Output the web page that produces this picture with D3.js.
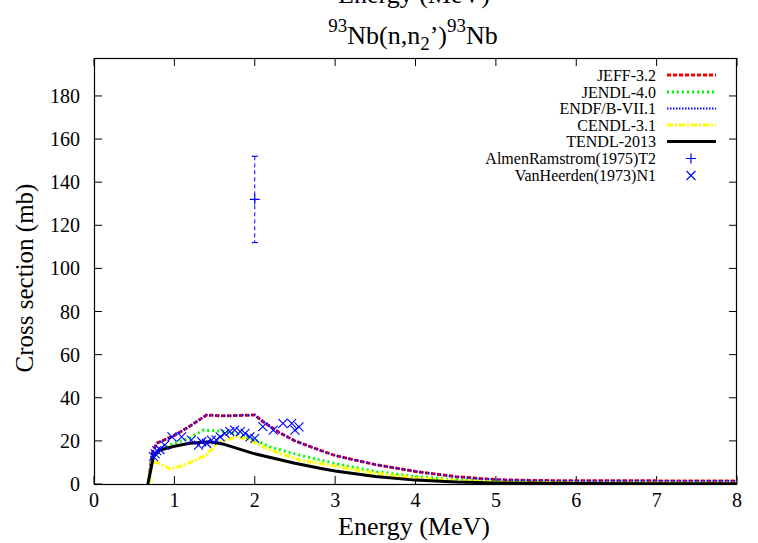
<!DOCTYPE html>
<html>
<head>
<meta charset="utf-8">
<script src="https://cdn.jsdelivr.net/npm/d3@7"></script>
</head>
<body style="margin:0">
<svg id="s" width="758" height="543"></svg>
<script>
// ---------------- data ----------------
const xTicks = [0, 1, 2, 3, 4, 5, 6, 7, 8];
const yTicks = [0, 20, 40, 60, 80, 100, 120, 140, 160, 180];

const jeffE = [0.68, 0.72, 0.78, 1.0, 1.2, 1.4, 1.6, 1.8, 2.0, 2.1, 2.3, 2.5, 2.75, 3.0, 3.5, 4.0, 4.5, 5.0, 5.5, 6.0, 7.0, 8.0];
const jeffV = [0, 14, 18.9, 22.5, 27, 32, 31.6, 31.8, 32, 29, 24, 20, 16.5, 13.2, 9, 5.8, 3.4, 2.0, 1.6, 1.5, 1.45, 1.4];

const jendlE = [0.68, 0.72, 0.82, 1.0, 1.19, 1.36, 1.6, 1.8, 2.0, 2.2, 2.56, 3.0, 3.5, 4.0, 4.5, 5.0, 6.0, 7.0, 8.0];
const jendlV = [0, 13, 15.8, 19, 21.3, 25, 24.5, 23, 20.5, 17, 13.4, 9.5, 5.8, 3.5, 2.0, 1.0, 0.6, 0.5, 0.5];

const endfE = [0.68, 0.72, 0.78, 1.0, 1.2, 1.4, 1.6, 1.8, 2.0, 2.1, 2.3, 2.5, 2.75, 3.0, 3.5, 4.0, 4.5, 5.0, 5.5, 6.0, 7.0, 8.0];
const endfV = [0, 14, 18.9, 22.5, 27, 32, 31.6, 31.8, 32, 29, 24, 20, 16.5, 13.2, 9, 5.8, 3.4, 2.0, 1.6, 1.5, 1.45, 1.4];

const cendlE = [0.69, 0.72, 0.78, 0.95, 1.1, 1.4, 1.53, 1.77, 1.9, 2.19, 2.56, 3.0, 3.5, 4.0, 4.5, 5.0, 6.0, 7.0, 8.0];
const cendlV = [0, 10, 10, 7, 8.5, 13.4, 18.9, 21.9, 21, 15.8, 11.1, 8.3, 5, 2.8, 1.5, 0.8, 0.4, 0.3, 0.3];

const tendlE = [0.67, 0.74, 0.82, 1.0, 1.19, 1.44, 1.6, 1.98, 2.5, 2.81, 3.0, 3.5, 4.0, 4.5, 5.0, 6.0, 7.0, 8.0];
const tendlV = [0, 12.7, 15.8, 17.5, 18.9, 19.6, 18.6, 14.2, 9.6, 7.3, 6, 3.5, 1.8, 0.9, 0.5, 0.2, 0.15, 0.1];

const almenE = [2.0];
const almenV = [132];
const almenErr = [20];

const vanE = [0.74, 0.76, 0.78, 0.82, 0.88, 0.97, 1.09, 1.21, 1.30, 1.34, 1.40, 1.46, 1.52, 1.57, 1.63, 1.69, 1.75, 1.82, 1.88, 1.94, 2.00, 2.10, 2.23, 2.35, 2.46, 2.50, 2.55];
const vanV = [12.7, 14, 15.5, 16, 18, 21.9, 21.9, 20.4, 18, 19.6, 18.9, 20.4, 20.5, 21.9, 23.5, 24.3, 25, 24.3, 23.5, 21.9, 21.2, 26.6, 25, 28.1, 28.1, 25, 26.5];

const seriesNames = ["JEFF-3.2", "JENDL-4.0", "ENDF/B-VII.1", "CENDL-3.1", "TENDL-2013"];
const expNames = ["AlmenRamstrom(1975)T2", "VanHeerden(1973)N1"];

// ---------------- layout ----------------
const L = 94, R = 737, T = 58, B = 484;
const svg = d3.select("#s");
const x = d3.scaleLinear().domain([0, 8]).range([L, R]);
const y = d3.scaleLinear().domain([0, 197.6]).range([B, T]);

const styles = [
  { color: "#ff0000", width: 3, dash: "4,2" },
  { color: "#00ff00", width: 3, dash: "2,3" },
  { color: "#0000ff", width: 2, dash: "1.5,1.5" },
  { color: "#ffff00", width: 3, dash: "6,2,2,2" },
  { color: "#000000", width: 3, dash: null }
];
const curves = [[jeffE, jeffV], [jendlE, jendlV], [endfE, endfV], [cendlE, cendlV], [tendlE, tendlV]];

// manual text helper (no d3-axis text, plain text elements like a simple label)
function label(xp, yp, str, size, anchor, dy) {
  return svg.append("text").attr("x", xp).attr("y", yp).attr("dy", dy || 0)
    .attr("text-anchor", anchor || "start")
    .style("font-family", "Liberation Serif").style("font-size", size + "px")
    .text(str);
}

svg.append("clipPath").attr("id", "clipArea").append("rect")
  .attr("x", L).attr("y", T).attr("width", R - L).attr("height", B - T);

// ticks (inward, mirrored) built from the scales
xTicks.forEach(t => {
  const px = x(t);
  svg.append("line").attr("x1", px).attr("x2", px).attr("y1", B).attr("y2", B - 8).attr("stroke", "#000");
  svg.append("line").attr("x1", px).attr("x2", px).attr("y1", T).attr("y2", T + 8).attr("stroke", "#000");
  label(px, B + 23, String(t), 20, "middle");
});
yTicks.forEach(t => {
  const py = y(t);
  svg.append("line").attr("x1", L).attr("x2", L + 8).attr("y1", py).attr("y2", py).attr("stroke", "#000");
  svg.append("line").attr("x1", R - 8).attr("x2", R).attr("y1", py).attr("y2", py).attr("stroke", "#000");
  label(L - 14, py + 7, String(t), 20, "end");
});

// frame
svg.append("rect").attr("x", L + 0.5).attr("y", T + 0.5).attr("width", R - L - 1).attr("height", B - T)
  .attr("fill", "none").attr("stroke", "#000").attr("stroke-width", 1.2);

// curves
const plot = svg.append("g").attr("clip-path", "url(#clipArea)");
const line = d3.line().x(d => x(d[0])).y(d => y(d[1]));
curves.forEach((c, i) => {
  const pts = c[0].map((e, k) => [e, c[1][k]]);
  const p = plot.append("path").datum(pts).attr("d", line)
    .attr("fill", "none").attr("stroke", styles[i].color).attr("stroke-width", styles[i].width)
    .attr("stroke-linejoin", "round");
  if (styles[i].dash) p.attr("stroke-dasharray", styles[i].dash);
});

// experimental: AlmenRamstrom with error bar
const blue = "#0000ff";
almenE.forEach((e, k) => {
  const cx = x(e), cy = y(almenV[k]);
  const y1 = y(almenV[k] + almenErr[k]), y0 = y(almenV[k] - almenErr[k]);
  plot.append("line").attr("x1", cx).attr("x2", cx).attr("y1", y1).attr("y2", y0)
    .attr("stroke", blue).attr("stroke-width", 1).attr("stroke-dasharray", "4,3");
  [y1, y0].forEach(yy => plot.append("line").attr("x1", cx - 3).attr("x2", cx + 3).attr("y1", yy).attr("y2", yy)
    .attr("stroke", blue).attr("stroke-width", 1.2));
  plot.append("path").attr("d", `M${cx - 5},${cy}H${cx + 5}M${cx},${cy - 5}V${cy + 5}`)
    .attr("stroke", blue).attr("stroke-width", 1.2);
});

// VanHeerden crosses
vanE.forEach((e, k) => {
  const cx = x(e), cy = y(vanV[k]), s = 4.5;
  plot.append("path").attr("d", `M${cx - s},${cy - s}L${cx + s},${cy + s}M${cx - s},${cy + s}L${cx + s},${cy - s}`)
    .attr("stroke", blue).attr("stroke-width", 1.1);
});

// legend
const rowY = [75, 92, 108.5, 125, 141.5, 158.5, 175.5];
const textEnd = 656, lx0 = 667, lx1 = 716, mx = 691;
seriesNames.forEach((n, i) => {
  label(textEnd, rowY[i] + 5.5, n, 16, "end");
  const l = svg.append("line").attr("x1", lx0).attr("x2", lx1).attr("y1", rowY[i]).attr("y2", rowY[i])
    .attr("stroke", styles[i].color).attr("stroke-width", styles[i].width);
  if (styles[i].dash) l.attr("stroke-dasharray", styles[i].dash);
});
expNames.forEach((n, j) => {
  const i = j + 5, cy = rowY[i];
  label(textEnd, cy + 5.5, n, 16, "end");
  if (j === 0) {
    svg.append("path").attr("d", `M${mx - 5},${cy}H${mx + 5}M${mx},${cy - 5}V${cy + 5}`)
      .attr("stroke", blue).attr("stroke-width", 1.2);
  } else {
    const s = 4.5;
    svg.append("path").attr("d", `M${mx - s},${cy - s}L${mx + s},${cy + s}M${mx - s},${cy + s}L${mx + s},${cy - s}`)
      .attr("stroke", blue).attr("stroke-width", 1.1);
  }
});

// axis labels
label(414, 535, "Energy (MeV)", 26, "middle");
label(414, 3, "Energy (MeV)", 26, "middle");
label(0, 0, "Cross section (mb)", 25, "middle").attr("transform", `translate(33,${(T + B) / 2 + 7}) rotate(-90)`);

// title
const title = label(413, 44, "", 26, "middle");
title.append("tspan").attr("dy", -12).style("font-size", "19px").text("93");
title.append("tspan").attr("dy", 12).text("Nb(n,n");
title.append("tspan").attr("dy", 6).style("font-size", "19px").text("2");
title.append("tspan").attr("dy", -6).text("’)");
title.append("tspan").attr("dy", -12).style("font-size", "19px").text("93");
title.append("tspan").attr("dy", 12).text("Nb");
</script>
</body>
</html>
